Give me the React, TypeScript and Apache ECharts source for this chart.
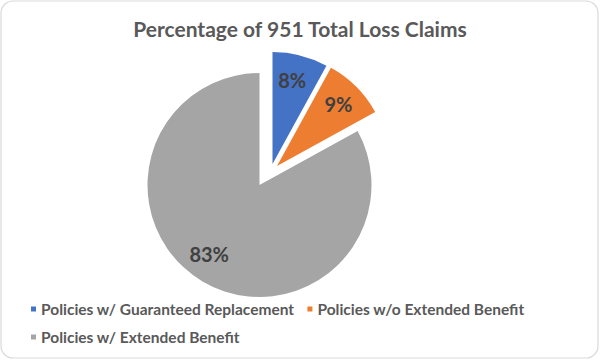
import React, { useEffect, useRef } from "react";
import * as echarts from "echarts";

const titleText = "Percentage of 951 Total Loss Claims";
const categories = [
  "Policies w/ Guaranteed Replacement",
  "Policies w/o Extended Benefit",
  "Policies w/ Extended Benefit",
];
const percentValues = [8, 9, 83];
const sliceColors = ["#4472C4", "#ED7D31", "#A5A5A5"];
const legendRow1 = [categories[0], categories[1]];
const legendRow2 = [categories[2]];

const FONT = "Lato, 'Open Sans', sans-serif";
const RADIUS = 112;
const centers: [number, number][] = [
  [272.5, 164],
  [277, 166],
  [259.5, 185],
];
const labelOffsets: [number, number][] = [
  [-2, 0],
  [0, 0],
  [-6, -6],
];

function sliceSeries(idx: number, withLabel: boolean) {
  return {
    type: "pie",
    silent: true,
    clockwise: true,
    startAngle: 90,
    center: centers[idx],
    radius: withLabel ? [RADIUS / 2, RADIUS] : [0, RADIUS],
    avoidLabelOverlap: false,
    emphasis: { disabled: true },
    labelLine: { show: false },
    data: categories.map((name, j) => ({
      name,
      value: percentValues[j],
      itemStyle: {
        color: withLabel ? "transparent" : j === idx ? sliceColors[j] : "transparent",
        borderWidth: 0,
      },
      label: {
        show: withLabel && j === idx,
        position: "inside",
        formatter: "{c}%",
        color: "#404040",
        fontSize: 20,
        fontWeight: "bold",
        fontFamily: FONT,
        offset: labelOffsets[j],
      },
    })),
  };
}

export default function App() {
  const ref = useRef<HTMLDivElement>(null);
  useEffect(() => {
    document.body.style.margin = "0";
    if (!ref.current) return;
    const chart = echarts.init(ref.current, undefined, { renderer: "svg" });
    const legendBase = {
      orient: "horizontal",
      icon: "rect",
      itemWidth: 5,
      itemHeight: 5,
      itemGap: 13,
      selectedMode: false,
      textStyle: {
        color: "#595959",
        fontSize: 15.5,
        fontWeight: "bold",
        fontFamily: FONT,
      },
    };
    chart.setOption({
      animation: false,
      backgroundColor: "#ffffff",
      title: {
        text: titleText,
        left: "center",
        top: 13,
        textStyle: {
          color: "#595959",
          fontSize: 21,
          fontWeight: "bold",
          fontFamily: FONT,
        },
      },
      legend: [
        {
          ...legendBase,
          left: 26,
          top: 296,
          data: legendRow1.map((n) => ({ name: n, itemStyle: { color: sliceColors[categories.indexOf(n)] } })),
        },
        {
          ...legendBase,
          left: 26,
          top: 324,
          data: legendRow2.map((n) => ({ name: n, itemStyle: { color: sliceColors[categories.indexOf(n)] } })),
        },
      ],
      graphic: [
        {
          type: "rect",
          silent: true,
          shape: { x: 1, y: 1, width: 597, height: 357, r: 12 },
          style: { fill: "none", stroke: "#D9D9D9", lineWidth: 1.2 },
          z: -1,
        },
      ],
      series: [0, 1, 2].map((i) => sliceSeries(i, false)).concat([0, 1, 2].map((i) => sliceSeries(i, true))),
    });
    return () => chart.dispose();
  }, []);
  return <div ref={ref} style={{ width: 600, height: 360 }} />;
}
